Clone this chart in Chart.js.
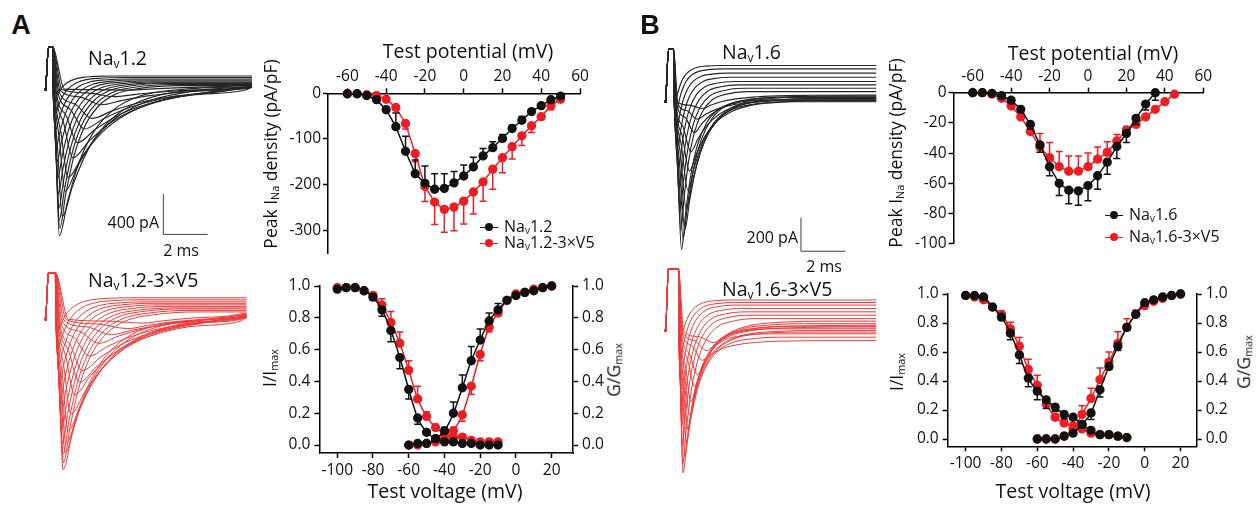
<!DOCTYPE html>
<html>
<head>
<meta charset="utf-8">
<script src="https://cdn.jsdelivr.net/npm/chart.js@4.4.1/dist/chart.umd.min.js"></script>
<style>
    body { margin: 0; background: #fff; font-family: 'Open Sans', sans-serif; color: #111; }
    #fig { position: relative; width: 1258px; height: 511px; overflow: hidden; }
    canvas { position: absolute; }
    .t { position: absolute; white-space: nowrap; line-height: 1; }
    .c { transform: translate(-50%, -50%); }
    .l { transform: translate(0, -50%); }
    .r { transform: translate(-100%, -50%); }
    .rot { transform: translate(-50%, -50%) rotate(-90deg); font-size: 17.5px; }
    .panel { font: bold 27px 'Liberation Sans', Arial, sans-serif; }
    .name { font-size: 19.5px; }
    .title { font-size: 19.5px; }
    .bar { font-size: 16px; }
    sub { font-size: 62%; vertical-align: -0.2em; line-height: 0; }
    .leg { position: absolute; font-size: 16px; white-space: nowrap; line-height: 1; transform: translate(0, -50%); }
    .leg i { display: inline-block; width: 18px; height: 1.5px; vertical-align: middle; position: relative; margin-right: 6px; }
    .leg i b { position: absolute; left: 5px; top: -3.5px; width: 8px; height: 8px; border-radius: 50%; }
</style>
</head>
<body>
<div id="fig">
    <canvas id="traceA1" style="left:36px;top:38px" width="226" height="210"></canvas>
    <canvas id="traceA2" style="left:36px;top:262px" width="226" height="218"></canvas>
    <canvas id="traceB1" style="left:656px;top:38px" width="228" height="224"></canvas>
    <canvas id="traceB2" style="left:656px;top:258px" width="228" height="226"></canvas>
    <canvas id="ivA" style="left:250px;top:20px" width="350" height="245"></canvas>
    <canvas id="ivB" style="left:880px;top:20px" width="340" height="235"></canvas>
    <canvas id="gvA" style="left:280px;top:270px" width="330" height="215"></canvas>
    <canvas id="gvB" style="left:905px;top:278px" width="330" height="205"></canvas>

    <div class="t panel c" style="left:21px;top:25px">A</div>
    <div class="t panel c" style="left:650px;top:25px">B</div>

    <div class="t name l" style="left:88px;top:58px">Na<sub>v</sub>1.2</div>
    <div class="t name l" style="left:88px;top:280px">Na<sub>v</sub>1.2-3×V5</div>
    <div class="t name l" style="left:722px;top:52px">Na<sub>v</sub>1.6</div>
    <div class="t name l" style="left:722px;top:289px">Na<sub>v</sub>1.6-3×V5</div>

    <div class="t bar r" style="left:159px;top:222px">400 pA</div>
    <div class="t bar c" style="left:181px;top:250px">2 ms</div>
    <div class="t bar r" style="left:798px;top:237px">200 pA</div>
    <div class="t bar c" style="left:824px;top:266px">2 ms</div>

    <div class="t title c" style="left:468px;top:51px">Test potential (mV)</div>
    <div class="t title c" style="left:1093px;top:53px">Test potential (mV)</div>
    <div class="t title c" style="left:445px;top:491px">Test voltage (mV)</div>
    <div class="t title c" style="left:1073px;top:491px">Test voltage (mV)</div>

    <div class="t rot" style="left:271px;top:154px">Peak I<sub>Na</sub> density (pA/pF)</div>
    <div class="t rot" style="left:896px;top:153px">Peak I<sub>Na</sub> density (pA/pF)</div>
    <div class="t rot" style="left:270px;top:368px">I/I<sub>max</sub></div>
    <div class="t rot" style="left:614px;top:370px">G/G<sub>max</sub></div>
    <div class="t rot" style="left:897px;top:372px">I/I<sub>max</sub></div>
    <div class="t rot" style="left:1244px;top:362px">G/G<sub>max</sub></div>

    <div class="leg" style="left:480px;top:226px"><i style="background:#111"><b style="background:#111"></b></i>Na<sub>v</sub>1.2</div>
    <div class="leg" style="left:480px;top:242px"><i style="background:#ee1d23"><b style="background:#ee1d23"></b></i>Na<sub>v</sub>1.2-3×V5</div>
    <div class="leg" style="left:1105px;top:214px"><i style="background:#111"><b style="background:#111"></b></i>Na<sub>v</sub>1.6</div>
    <div class="leg" style="left:1105px;top:236px"><i style="background:#ee1d23"><b style="background:#ee1d23"></b></i>Na<sub>v</sub>1.6-3×V5</div>
</div>

<script>
// --- Data: current-voltage (pA/pF) ---
const ivVoltageA = [-60, -55, -50, -45, -40, -35, -30, -25, -20, -15, -10, -5, 0, 5, 10, 15, 20, 25, 30, 35, 40, 45, 50];
const nav12Density = [-1, -1, -5, -14, -36, -73, -127, -176, -197, -210, -208, -196, -181, -161, -137, -119, -99, -77, -59, -40, -27, -14, -6];
const nav12DensityErr = [0, 0, 1, 3, 6, 30, 33, 30, 38, 34, 32, 25, 24, 21, 16, 13, 9, 7, 8, 4, 4, 2, 1];
const nav12V5Density = [-1, -1, -3, -5, -13, -31, -66, -132, -204, -238, -254, -249, -236, -216, -194, -166, -141, -117, -93, -71, -51, -27, -13];
const nav12V5DensityErr = [0, 0, 0, 1, 2, 4, 12, 18, 33, 49, 50, 52, 50, 48, 42, 44, 33, 27, 21, 15, 6, 9, 3];

const ivVoltage16 = [-60, -55, -50, -45, -40, -35, -30, -25, -20, -15, -10, -5, 0, 5, 10, 15, 20, 25, 30, 35];
const nav16Density = [0, 0, -0.4, -2, -5, -11, -21, -34.5, -49, -60, -64.6, -65, -61.5, -55, -46, -35.6, -27, -17, -7.5, 0];
const nav16DensityErr = [0, 0, 0, 0.5, 1, 2, 3, 5, 6, 8, 9, 9.5, 10, 9, 8, 8, 6, 4, 4, 5];
const ivVoltage16V5 = [-60, -55, -50, -45, -40, -35, -30, -25, -20, -15, -10, -5, 0, 5, 10, 15, 20, 25, 30, 35, 40, 45];
const nav16V5Density = [0, 0, -1, -3.7, -8.8, -16, -25.7, -36, -43, -49, -52, -52, -49, -44, -39.5, -32, -24.6, -21, -16, -11, -6, -1];
const nav16V5DensityErr = [0, 0, 0, 0.5, 1, 1.5, 5, 9, 10, 10, 10, 10, 9, 8, 7, 4.4, 2, 1, 1, 1, 1, 1];

const ivTicksX = [-60, -40, -20, 0, 20, 40, 60];
const ivTicksA = [0, -100, -200, -300];
const ivTicksB = [0, -20, -40, -60, -80, -100];

// --- Data: steady-state inactivation (I/Imax) and activation (G/Gmax) ---
const inactVoltage = [-100, -95, -90, -85, -80, -75, -70, -65, -60, -55, -50, -45, -40, -35, -30, -25, -20, -15, -10];
const actVoltage = [-60, -55, -50, -45, -40, -35, -30, -25, -20, -15, -10, -5, 0, 5, 10, 15, 20];

const nav12Inact = [0.98, 0.99, 0.99, 0.97, 0.93, 0.85, 0.72, 0.55, 0.35, 0.17, 0.08, 0.04, 0.02, 0.02, 0.01, 0.01, 0.0, 0.0, 0.0];
const nav12InactErr = [0, 0, 0, 0.01, 0.02, 0.04, 0.07, 0.07, 0.06, 0.04, 0.01, 0, 0, 0, 0, 0, 0, 0, 0];
const nav12Act = [0.0, 0.01, 0.01, 0.04, 0.09, 0.2, 0.36, 0.53, 0.66, 0.78, 0.85, 0.91, 0.94, 0.96, 0.97, 0.99, 1.0];
const nav12ActErr = [0, 0, 0, 0, 0.02, 0.07, 0.08, 0.09, 0.07, 0.05, 0.04, 0.01, 0, 0, 0, 0, 0];
const nav12V5Inact = [0.99, 0.99, 0.99, 0.97, 0.94, 0.88, 0.77, 0.64, 0.47, 0.29, 0.18, 0.11, 0.07, 0.05, 0.05, 0.03, 0.02, 0.02, 0.02];
const nav12V5InactErr = [0, 0, 0, 0.01, 0.02, 0.04, 0.07, 0.07, 0.06, 0.08, 0.03, 0.02, 0.01, 0, 0, 0, 0, 0, 0];
const nav12V5Act = [0.0, 0.0, 0.01, 0.02, 0.04, 0.09, 0.19, 0.37, 0.57, 0.74, 0.83, 0.91, 0.95, 0.96, 0.98, 0.99, 1.0];
const nav12V5ActErr = [0, 0, 0, 0, 0.01, 0.02, 0.04, 0.05, 0.04, 0.03, 0.02, 0.01, 0, 0, 0, 0, 0];

const nav16Inact = [0.99, 0.99, 0.98, 0.91, 0.84, 0.73, 0.58, 0.42, 0.33, 0.27, 0.22, 0.17, 0.15, 0.10, 0.06, 0.03, 0.03, 0.02, 0.01];
const nav16InactErr = [0, 0, 0, 0, 0.02, 0.045, 0.06, 0.06, 0.06, 0.06, 0.03, 0.03, 0.01, 0, 0, 0, 0, 0, 0];
const nav16Act = [0.0, 0.0, 0.0, 0.02, 0.04, 0.1, 0.18, 0.34, 0.5, 0.64, 0.77, 0.86, 0.94, 0.96, 0.98, 0.99, 1.0];
const nav16ActErr = [0, 0, 0, 0, 0, 0.02, 0.045, 0.05, 0.02, 0.03, 0.02, 0.01, 0, 0, 0, 0, 0];
const nav16V5Inact = [0.99, 0.98, 0.96, 0.91, 0.86, 0.76, 0.64, 0.48, 0.37, 0.24, 0.15, 0.11, 0.09, 0.07, 0.04, 0.03, 0.03, 0.02, 0.01];
const nav16V5InactErr = [0, 0, 0, 0, 0.02, 0.045, 0.06, 0.07, 0.07, 0.04, 0.02, 0.02, 0.01, 0, 0, 0, 0, 0, 0];
const nav16V5Act = [0.0, 0.0, 0.0, 0.02, 0.07, 0.17, 0.28, 0.41, 0.53, 0.66, 0.77, 0.86, 0.92, 0.95, 0.97, 0.99, 1.0];
const nav16V5ActErr = [0, 0, 0, 0, 0.01, 0.06, 0.07, 0.08, 0.07, 0.08, 0.06, 0.03, 0.01, 0, 0, 0, 0];

const gvTicksX = [-100, -80, -60, -40, -20, 0, 20];
const gvTicksY = [0, 0.2, 0.4, 0.6, 0.8, 1.0];

// --- Data: example sweeps, one entry per sweep ---
// peak current (pA), time of peak (ms), decay time (ms), level at end of the step (pA)
const nav12SweepPeak = [-1450, -1260, -1010, -875, -680, -530, -395, -290, -155, -75, -10, -1380, -1300, -1180, -1040, -880, -720, -560, -400, -250, -110];
const nav12SweepTime = [0.61, 0.74, 0.87, 1.0, 1.22, 1.43, 1.74, 2.09, 2.52, 3.09, 3.83, 0.63, 0.6, 0.58, 0.56, 0.54, 0.51, 0.48, 0.45, 0.42, 0.39];
const nav12SweepDecay = [1.3, 1.6, 1.9, 2.2, 2.5, 2.7, 2.9, 3.0, 3.1, 3.2, 3.3, 0.9, 0.85, 0.8, 0.75, 0.7, 0.65, 0.6, 0.55, 0.5, 0.45];
const nav12SweepEnd = [20, 22, 25, 18, 28, 24, 30, 20, 26, 22, 40, 35, 45, 55, 62, 70, 80, 90, 100, 115, 130];

const nav12V5SweepPeak = [-1490, -1325, -1230, -1105, -940, -750, -625, -510, -365, -240, -155, -95, -40, -1420, -1340, -1230, -1100, -950, -790, -620, -450, -280, -120];
const nav12V5SweepTime = [0.78, 0.87, 0.91, 1.0, 1.13, 1.3, 1.52, 1.65, 1.96, 2.39, 2.96, 3.7, 4.4, 0.8, 0.77, 0.74, 0.71, 0.68, 0.65, 0.62, 0.59, 0.56, 0.53];
const nav12V5SweepDecay = [1.4, 1.6, 1.8, 2.0, 2.2, 2.4, 2.6, 2.7, 2.8, 2.9, 3.0, 3.1, 3.2, 1.0, 0.95, 0.9, 0.85, 0.8, 0.75, 0.7, 0.65, 0.6, 0.55];
const nav12V5SweepEnd = [10, 20, 15, 30, 25, 40, 20, 35, 30, 50, 25, 45, 60, 70, 85, 100, 110, 125, 140, 155, 170, 190, 210];

const nav16SweepPeak = [-875, -810, -755, -640, -525, -410, -297, -183, -103, -40, -760, -650, -520, -390, -260, -140, -50, 20];
const nav16SweepTime = [0.71, 0.78, 0.86, 0.93, 1.0, 1.07, 1.13, 1.29, 1.43, 1.65, 0.68, 0.65, 0.62, 0.59, 0.56, 0.53, 0.5, 0.47];
const nav16SweepDecay = [0.6, 0.68, 0.76, 0.84, 0.92, 1.0, 1.05, 1.1, 1.15, 1.2, 0.5, 0.48, 0.45, 0.42, 0.4, 0.38, 0.35, 0.33];
const nav16SweepEnd = [10, 25, 0, 15, 30, 5, 20, 35, 10, 40, 60, 80, 100, 120, 145, 170, 195, 215];

const nav16V5SweepPeak = [-843, -748, -662, -586, -500, -422, -329, -263, -177, -120, -72, -790, -680, -560, -430, -300, -180, -80];
const nav16V5SweepTime = [0.78, 0.86, 0.93, 1.0, 1.07, 1.14, 1.29, 1.43, 1.65, 1.86, 2.16, 0.76, 0.74, 0.72, 0.7, 0.68, 0.66, 0.64];
const nav16V5SweepDecay = [0.6, 0.65, 0.7, 0.75, 0.8, 0.85, 0.9, 0.95, 1.0, 1.05, 1.1, 0.55, 0.5, 0.48, 0.45, 0.42, 0.4, 0.38];
const nav16V5SweepEnd = [-20, 10, -40, 25, -10, 40, 0, 55, -60, 20, 30, 70, 90, 110, 130, 150, 165, 180];

// decay of one sweep after its peak (time in units of the decay time, fraction left)
const decayStep = [0.3, 0.7, 1.2, 1.9, 2.8, 4, 6];
const decayLeft = [0.76, 0.5, 0.3, 0.15, 0.06, 0.02, 0];

const BLACK = '#111111';
const RED = '#ee1d23';

Chart.defaults.font.family = "'Open Sans', sans-serif";
Chart.defaults.color = '#111';
Chart.defaults.animation = false;
Chart.defaults.events = [];
Chart.defaults.plugins.legend.display = false;
Chart.defaults.plugins.tooltip.enabled = false;

// --- Error bars, one-sided, drawn under each dataset ---
const errorBars = {
    id: 'errorBars',
    beforeDatasetDraw(chart, args) {
        const ds = chart.data.datasets[args.index];
        if (!ds.errors) return;
        const ys = chart.scales[args.meta.yAxisID];
        const ctx = chart.ctx;
        ctx.save();
        ctx.strokeStyle = ds.borderColor;
        ctx.lineWidth = 1.5;
        args.meta.data.forEach((pt, i) => {
            const e = ds.errors[i];
            if (!e) return;
            const y2 = ys.getPixelForValue(ds.data[i].y + ds.errSide * e);
            ctx.beginPath();
            ctx.moveTo(pt.x, pt.y);
            ctx.lineTo(pt.x, y2);
            ctx.moveTo(pt.x - 3.5, y2);
            ctx.lineTo(pt.x + 3.5, y2);
            ctx.stroke();
        });
        ctx.restore();
    }
};

// --- Scale bar for the sweeps (time and current) ---
const scaleBar = {
    id: 'scaleBar',
    afterDatasetsDraw(chart, args, opts) {
        if (!opts || opts.t === undefined) return;
        const xs = chart.scales.x, ys = chart.scales.y;
        const x0 = xs.getPixelForValue(opts.t), x1 = xs.getPixelForValue(opts.t + opts.dt);
        const y0 = ys.getPixelForValue(opts.i + opts.di), y1 = ys.getPixelForValue(opts.i);
        const ctx = chart.ctx;
        ctx.save();
        ctx.strokeStyle = '#444';
        ctx.lineWidth = 1;
        ctx.beginPath();
        ctx.moveTo(x0, y0);
        ctx.lineTo(x0, y1);
        ctx.lineTo(x1, y1);
        ctx.stroke();
        ctx.restore();
    }
};

const pts = (xs, ys) => xs.map((x, i) => ({ x: x, y: ys[i] }));

function sweepPoints(peak, tp, tau, end, rec) {
    const p = [{ x: 0, y: 0 }, { x: 0.13, y: rec.top }, { x: rec.stepEnd, y: rec.top }];
    const r = tp - rec.stepEnd;
    p.push({ x: rec.stepEnd + r * 0.15, y: peak * 0.06 });
    p.push({ x: rec.stepEnd + r * 0.55, y: peak * 0.5 });
    p.push({ x: tp, y: peak });
    decayStep.forEach((u, k) => {
        const t = tp + u * tau;
        if (t < rec.tEnd) p.push({ x: t, y: end + (peak - end) * decayLeft[k] });
    });
    p.push({ x: rec.tEnd, y: end });
    return p;
}

function traceChart(id, rec, peaks, times, decays, ends, color, width, bar) {
    const datasets = peaks.map((pk, i) => ({
        data: sweepPoints(pk, times[i], decays[i], ends[i], rec),
        borderColor: color,
        borderWidth: width,
        cubicInterpolationMode: 'monotone',
        pointRadius: c => c.dataIndex === 0 ? 1.6 : 0,
        pointStyle: 'rect',
        pointBackgroundColor: color,
        pointBorderWidth: 0,
        clip: false
    }));
    new Chart(document.getElementById(id), {
        type: 'line',
        data: { datasets },
        options: {
            responsive: false,
            layout: { padding: 0 },
            scales: {
                x: { type: 'linear', display: false, min: rec.xMin, max: rec.xMax },
                y: { display: false, min: rec.yMin, max: rec.yMax }
            },
            plugins: { scaleBar: bar || {} }
        },
        plugins: [scaleBar]
    });
}

// --- Sweeps ---
traceChart('traceA1', { top: 419, stepEnd: 0.31, tEnd: 9.3, xMin: -0.26, xMax: 9.57, yMin: -1533, yMax: 466 },
    nav12SweepPeak, nav12SweepTime, nav12SweepDecay, nav12SweepEnd, '#262626', 1.15,
    { t: 5.3, i: -1438, dt: 2, di: 400 });
traceChart('traceA2', { top: 457, stepEnd: 0.43, tEnd: 9.05, xMin: -0.26, xMax: 9.57, yMin: -1552, yMax: 524 },
    nav12V5SweepPeak, nav12V5SweepTime, nav12V5SweepDecay, nav12V5SweepEnd, '#ef3a3a', 1);
traceChart('traceB1', { top: 314, stepEnd: 0.35, tEnd: 9.48, xMin: -0.26, xMax: 9.65, yMin: -925, yMax: 354 },
    nav16SweepPeak, nav16SweepTime, nav16SweepDecay, nav16SweepEnd, '#262626', 1.15,
    { t: 6.09, i: -885, dt: 2, di: 200 });
traceChart('traceB2', { top: 365, stepEnd: 0.57, tEnd: 9.48, xMin: -0.26, xMax: 9.65, yMin: -885, yMax: 405 },
    nav16V5SweepPeak, nav16V5SweepTime, nav16V5SweepDecay, nav16V5SweepEnd, '#ef3a3a', 1);

// --- Axis helpers ---
const TICK_FONT = { size: 15.5 };
function axis(extra) {
    return Object.assign({
        border: { display: true, color: '#000', width: 1.5 },
        grid: { display: true, drawOnChartArea: false, drawTicks: true, tickLength: 5, tickWidth: 1.5, tickColor: '#000' },
        ticks: { color: '#111', font: TICK_FONT, padding: 2, autoSkip: false, maxRotation: 0 }
    }, extra);
}
const fixTicks = list => s => { s.ticks = list.map(v => ({ value: v })); };

function series(data, errors, errSide, color, smooth) {
    return {
        data, errors, errSide,
        borderColor: color,
        backgroundColor: color,
        pointBackgroundColor: color,
        pointBorderColor: color,
        borderWidth: 1.5,
        pointRadius: 3.9,
        cubicInterpolationMode: smooth ? 'monotone' : 'default',
        tension: 0,
        clip: false
    };
}

// --- I-V plots ---
function ivChart(id, datasets, yMin, yTicks, size) {
    new Chart(document.getElementById(id), {
        type: 'line',
        data: { datasets },
        options: {
            responsive: false,
            layout: { padding: { left: 0, top: 0, right: size.right, bottom: size.bottom } },
            scales: {
                x: axis({
                    type: 'linear', position: 'top', min: -70, max: 60,
                    afterBuildTicks: fixTicks(ivTicksX),
                    afterFit: s => { s.height = size.top; }
                }),
                y: axis({
                    min: yMin, max: 0,
                    afterBuildTicks: fixTicks(yTicks),
                    afterFit: s => { s.width = size.left; }
                })
            }
        },
        plugins: [errorBars]
    });
}

ivChart('ivA', [
    series(pts(ivVoltageA, nav12Density), nav12DensityErr, 1, BLACK),
    series(pts(ivVoltageA, nav12V5Density), nav12V5DensityErr, -1, RED)
], -351, ivTicksA, { left: 78, top: 73.3, right: 20, bottom: 8.8 });

ivChart('ivB', [
    series(pts(ivVoltage16, nav16Density), nav16DensityErr, -1, BLACK),
    series(pts(ivVoltage16V5, nav16V5Density), nav16V5DensityErr, 1, RED)
], -100, ivTicksB, { left: 73.5, top: 72.7, right: 16.7, bottom: 10.7 });

// --- Inactivation / activation plots ---
function gvChart(id, datasets, xMax, size) {
    const yAxis = (pos, w) => axis({
        position: pos, min: -0.05, max: 1.0,
        afterBuildTicks: fixTicks(gvTicksY),
        ticks: { color: '#111', font: TICK_FONT, padding: 4, callback: v => v.toFixed(1) },
        afterFit: s => { s.width = w; }
    });
    new Chart(document.getElementById(id), {
        type: 'line',
        data: { datasets },
        options: {
            responsive: false,
            layout: { padding: { left: 0, top: size.top, right: 0, bottom: 0 } },
            scales: {
                x: axis({
                    type: 'linear', position: 'bottom', min: -110, max: xMax,
                    afterBuildTicks: fixTicks(gvTicksX),
                    ticks: { color: '#111', font: TICK_FONT, padding: 3, maxRotation: 0 },
                    afterFit: s => { s.height = size.bottom; }
                }),
                y: yAxis('left', size.left),
                y2: yAxis('right', size.right)
            }
        },
        plugins: [errorBars]
    });
}

gvChart('gvA', [
    series(pts(inactVoltage, nav12Inact), nav12InactErr, -1, BLACK, true),
    series(pts(actVoltage, nav12Act), nav12ActErr, 1, BLACK, true),
    series(pts(inactVoltage, nav12V5Inact), nav12V5InactErr, 1, RED, true),
    series(pts(actVoltage, nav12V5Act), nav12V5ActErr, -1, RED, true)
], 32, { left: 39.4, right: 36.9, top: 16, bottom: 32 });

gvChart('gvB', [
    series(pts(inactVoltage, nav16Inact), nav16InactErr, -1, BLACK, true),
    series(pts(actVoltage, nav16Act), nav16ActErr, -1, BLACK, true),
    series(pts(inactVoltage, nav16V5Inact), nav16V5InactErr, 1, RED, true),
    series(pts(actVoltage, nav16V5Act), nav16V5ActErr, 1, RED, true)
], 29, { left: 42.7, right: 38.3, top: 16, bottom: 36.75 });
</script>
</body>
</html>
